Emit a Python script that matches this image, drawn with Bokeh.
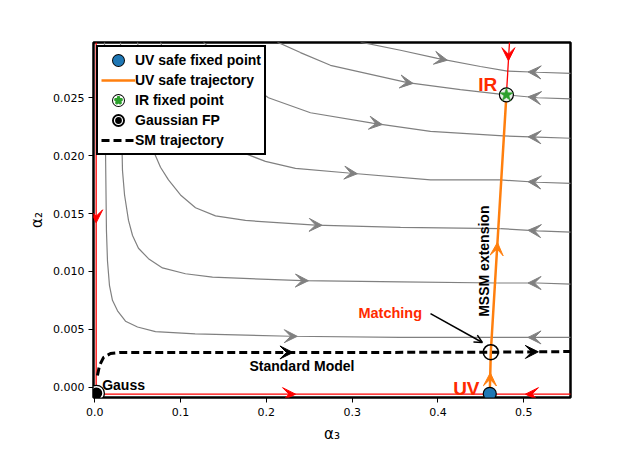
import numpy as np
from bokeh.plotting import figure
from bokeh.models import (ColumnDataSource, Arrow, VeeHead, OpenHead, Label, Legend,
                          LegendItem, FixedTicker, NumeralTickFormatter, Range1d)
from bokeh.embed import file_html
from bokeh.resources import INLINE

# ---------------- data (alpha3, alpha2) ----------------
# gray RG flow lines arriving from the left / top
flow_A_a3 = [0.0113, 0.0125, 0.0136, 0.0148, 0.0171, 0.0206, 0.0265, 0.0358, 0.0498, 0.0707, 0.117, 0.228, 0.356, 0.461]
flow_A_a2 = [0.0298, 0.0204, 0.0135, 0.0109, 0.0088, 0.0075, 0.0066, 0.0057, 0.0052, 0.0048, 0.0046, 0.0044, 0.0043, 0.0043]
flow_B_a3 = [0.0300, 0.0311, 0.0323, 0.0347, 0.0393, 0.0440, 0.0509, 0.0626, 0.0789, 0.1057, 0.1372, 0.2421, 0.3563, 0.4694]
flow_B_a2 = [0.0298, 0.0230, 0.0187, 0.0166, 0.0144, 0.0131, 0.0120, 0.0111, 0.0103, 0.0098, 0.0095, 0.0092, 0.0091, 0.0090]
flow_C_a3 = [0.0498, 0.0556, 0.0614, 0.0684, 0.0766, 0.0859, 0.0999, 0.1174, 0.1407, 0.1756, 0.2572, 0.3563, 0.4729]
flow_C_a2 = [0.0298, 0.0265, 0.0230, 0.0204, 0.0190, 0.0179, 0.0166, 0.0155, 0.0148, 0.0144, 0.0140, 0.0138, 0.0137]
flow_D_a3 = [0.0766, 0.0906, 0.1092, 0.1349, 0.1675, 0.1989, 0.2339, 0.2957, 0.3913, 0.4729]
flow_D_a2 = [0.0298, 0.0269, 0.0243, 0.0222, 0.0204, 0.0195, 0.0189, 0.0185, 0.0179, 0.0179]
flow_E_a3 = [0.1267, 0.1523, 0.1815, 0.2024, 0.2514, 0.3237, 0.3913, 0.4763]
flow_E_a2 = [0.0298, 0.0278, 0.0261, 0.0250, 0.0237, 0.0228, 0.0221, 0.0217]
flow_F_a3 = [0.2129, 0.2397, 0.2747, 0.3645, 0.4262, 0.4798]
flow_F_a2 = [0.0298, 0.0289, 0.0278, 0.0263, 0.0257, 0.02525]
flow_G_a3 = [0.3097, 0.3563, 0.3994, 0.4495, 0.4810]
flow_G_a2 = [0.0298, 0.0291, 0.0284, 0.0277, 0.0273]
left_arrow_tip_a3 = [0.236, 0.249, 0.265, 0.306, 0.335, 0.371, 0.411]

# gray flow lines arriving from the right edge
right_a3_edge = 0.555
right_a3_mid = 0.516
right_end_a3 = [0.461, 0.4694, 0.4729, 0.4729, 0.4763, 0.4798, 0.4810]
right_edge_a2 = [0.0043, 0.0089, 0.0134, 0.0176, 0.0215, 0.0249, 0.0271]
right_mid_a2 = [0.0043, 0.0090, 0.0135, 0.0177, 0.0216, 0.0250, 0.0272]
right_end_a2 = [0.0043, 0.0090, 0.0137, 0.0179, 0.0217, 0.02525, 0.0273]
right_arrow_tip_a3 = 0.505

# fixed points
uv_fp = (0.4604, -0.00057)
ir_fp = (0.4798, 0.02525)
gauss_fp = (0.0020, -0.00052)
matching_pt = (0.4616, 0.00302)

# UV safe trajectory (orange)
uv_traj_a3 = [0.4604, 0.4616, 0.4798]
uv_traj_a2 = [-0.00057, 0.00302, 0.02525]
uv_arrow_tip_a2 = [0.00124, 0.0125]

# red separatrices
red_bottom_a3 = [0.0020, 0.555]
red_bottom_a2 = [-0.0006, -0.0006]
red_bottom_tips = [(0.234, +1), (0.502, -1)]
red_left_a3 = [0.0016, 0.0016]
red_left_a2 = [0.0298, -0.0006]
red_left_tip_a2 = 0.0142
red_top_a3 = [0.4798, 0.4834]
red_top_a2 = [0.02525, 0.0298]
red_top_tip_a2 = 0.0282

# Standard Model trajectory (dashed)
sm_a3 = [0.0031, 0.0055, 0.0101, 0.0183, 0.030, 0.1232, 0.298, 0.4612, 0.555]
sm_a2 = [0.00101, 0.00187, 0.00256, 0.00291, 0.0030, 0.0030, 0.0030, 0.00302, 0.00308]
sm_arrow_tip_a3 = [0.231, 0.517]

x_ticks = [0.0, 0.1, 0.2, 0.3, 0.4, 0.5]
y_ticks = [0.000, 0.005, 0.010, 0.015, 0.020, 0.025]

legend_labels = ["UV safe fixed point", "UV safe trajectory", "IR fixed point", "Gaussian FP", "SM trajectory"]

# ---------------- figure ----------------
p = figure(output_backend="svg", toolbar_location=None,
           frame_width=477, frame_height=355,
           min_border_left=93, min_border_right=45, min_border_top=42, min_border_bottom=62,
           x_range=Range1d(-0.0015, 0.5545), y_range=Range1d(-0.00089, 0.02977),
           background_fill_color="white", border_fill_color="white")
p.grid.visible = False
p.outline_line_color = "black"
p.outline_line_width = 2.5

GRAY = "#808080"
RED = "#ff0000"
ORANGE = "#ff7f0e"
TXT_RED = "#ff2a00"
BLUE = "#1f77b4"
GREEN = "#2ca02c"


def add_arrows(xs, ys, xe, ye, color, size=13):
    src = ColumnDataSource(dict(xs=xs, ys=ys, xe=xe, ye=ye))
    p.add_layout(Arrow(end=VeeHead(size=size, fill_color=color, line_color=color, line_width=1),
                       x_start="xs", y_start="ys", x_end="xe", y_end="ye",
                       source=src, line_color=None))


left_curves = [(flow_A_a3, flow_A_a2), (flow_B_a3, flow_B_a2), (flow_C_a3, flow_C_a2),
               (flow_D_a3, flow_D_a2), (flow_E_a3, flow_E_a2), (flow_F_a3, flow_F_a2),
               (flow_G_a3, flow_G_a2)]
p.multi_line(xs=[c[0] for c in left_curves], ys=[c[1] for c in left_curves],
             line_color=GRAY, line_width=1.2)
xs, ys, xe, ye = [], [], [], []
for (cx, cy), tip in zip(left_curves, left_arrow_tip_a3):
    xs.append(tip - 0.008); ys.append(float(np.interp(tip - 0.008, cx, cy)))
    xe.append(tip); ye.append(float(np.interp(tip, cx, cy)))
add_arrows(xs, ys, xe, ye, GRAY)

rx = [[right_a3_edge, right_a3_mid, e] for e in right_end_a3]
ry = [[a, b, c] for a, b, c in zip(right_edge_a2, right_mid_a2, right_end_a2)]
p.multi_line(xs=rx, ys=ry, line_color=GRAY, line_width=1.2)
xs, ys, xe, ye = [], [], [], []
for cx, cy in zip(rx, ry):
    xr, yr = cx[::-1], cy[::-1]
    xs.append(right_arrow_tip_a3 + 0.008); ys.append(float(np.interp(right_arrow_tip_a3 + 0.008, xr, yr)))
    xe.append(right_arrow_tip_a3); ye.append(float(np.interp(right_arrow_tip_a3, xr, yr)))
add_arrows(xs, ys, xe, ye, GRAY)

# red separatrices
p.line(red_bottom_a3, red_bottom_a2, line_color=RED, line_width=1.3)
p.line(red_left_a3, red_left_a2, line_color=RED, line_width=1.3)
p.line(red_top_a3, red_top_a2, line_color=RED, line_width=1.3)
xs = [t - 0.008 * d for t, d in red_bottom_tips]
xe = [t for t, d in red_bottom_tips]
add_arrows(xs, [red_bottom_a2[0]] * 2, xe, [red_bottom_a2[0]] * 2, RED)
add_arrows([red_left_a3[0]], [red_left_tip_a2 + 0.0007], [red_left_a3[0]], [red_left_tip_a2], RED)
top_x = float(np.interp(red_top_tip_a2, red_top_a2, red_top_a3))
add_arrows([top_x], [red_top_tip_a2 + 0.0007], [top_x], [red_top_tip_a2], RED)

# Standard Model trajectory
sm_r = p.line(sm_a3, sm_a2, line_color="black", line_width=3, line_dash="8 4")
add_arrows([t - 0.008 for t in sm_arrow_tip_a3], [float(np.interp(t - 0.008, sm_a3, sm_a2)) for t in sm_arrow_tip_a3],
           sm_arrow_tip_a3, [float(np.interp(t, sm_a3, sm_a2)) for t in sm_arrow_tip_a3], "black")

# UV-safe trajectory
uv_r = p.line(uv_traj_a3, uv_traj_a2, line_color=ORANGE, line_width=2.5)
add_arrows([float(np.interp(t - 0.0008, uv_traj_a2, uv_traj_a3)) for t in uv_arrow_tip_a2],
           [t - 0.0008 for t in uv_arrow_tip_a2],
           [float(np.interp(t, uv_traj_a2, uv_traj_a3)) for t in uv_arrow_tip_a2],
           uv_arrow_tip_a2, ORANGE)

# matching point
p.scatter([matching_pt[0]], [matching_pt[1]], size=15, marker="circle", fill_color=None,
          line_color="black", line_width=1.6)

# fixed points
p.scatter([uv_fp[0]], [uv_fp[1]], size=13, marker="circle", fill_color=BLUE,
          line_color="black", line_width=1.2)
p.scatter([ir_fp[0]], [ir_fp[1]], size=14, marker="circle", fill_color="#e8f0e8",
          line_color="black", line_width=1.2)
p.scatter([ir_fp[0]], [ir_fp[1]], size=14, marker="star", fill_color=GREEN,
          line_color=GREEN, line_width=0.5)
p.scatter([gauss_fp[0]], [gauss_fp[1]], size=13, marker="circle", fill_color=None,
          line_color="black", line_width=4)
p.scatter([gauss_fp[0]], [gauss_fp[1]], size=13, marker="circle", fill_color="black",
          line_color="white", line_width=1.5)

# legend-only marker renderers (placed outside the visible range)
off = dict(x=[-1.0], y=[-1.0])
lg_uv = [p.scatter(marker="circle", size=8, fill_color=None, line_color="black", line_width=5, **off),
         p.scatter(marker="circle", size=8, fill_color=BLUE, line_color=BLUE, line_width=3, **off)]
lg_ir = [p.scatter(marker="circle", size=8, fill_color=None, line_color="black", line_width=5, **off),
         p.scatter(marker="circle", size=8, fill_color="white", line_color="white", line_width=3, **off),
         p.scatter(marker="star", size=8, fill_color=GREEN, line_color=GREEN, line_width=2.5, **off)]
lg_ga = [p.scatter(marker="circle", size=8, fill_color=None, line_color="black", line_width=5, **off),
         p.scatter(marker="circle", size=8, fill_color="black", line_color="white", line_width=1.2, **off)]

# annotation arrow to matching point
p.add_layout(Arrow(end=OpenHead(size=8, line_color="black", line_width=1.5),
                   x_start=0.3913, y_start=0.00636, x_end=0.4518, y_end=0.00386,
                   line_color="black", line_width=1.5))

# texts
FONT = "Liberation Sans"
p.add_layout(Label(x=0.1803, y=0.00179, text="Standard Model", text_font=FONT, text_font_size="14px",
                   text_font_style="bold", text_color="black", text_baseline="alphabetic"))
p.add_layout(Label(x=0.0086, y=0.00015, text="Gauss", text_font=FONT, text_font_size="14px",
                   text_font_style="bold", text_color="black", text_baseline="alphabetic"))
p.add_layout(Label(x=0.3073, y=0.00642, text="Matching", text_font=FONT, text_font_size="14.5px",
                   text_font_style="bold", text_color=TXT_RED, text_baseline="alphabetic"))
p.add_layout(Label(x=0.4470, y=0.02615, text="IR", text_font=FONT, text_font_size="19px",
                   text_font_style="bold", text_color=TXT_RED, text_baseline="alphabetic"))
p.add_layout(Label(x=0.4177, y=-0.00011, text="UV", text_font=FONT, text_font_size="19px",
                   text_font_style="bold", text_color=TXT_RED, text_baseline="alphabetic"))
p.add_layout(Label(x=0.4542, y=0.00608, text="MSSM extension", text_font=FONT, text_font_size="14px",
                   text_font_style="bold", text_color="black", angle=np.pi / 2,
                   text_align="left", text_baseline="middle"))

# axes
for ax in (p.xaxis[0], p.yaxis[0]):
    ax.axis_line_color = None
    ax.major_tick_line_color = "black"
    ax.major_tick_line_width = 1
    ax.major_tick_in = 0
    ax.major_tick_out = 5
    ax.minor_tick_line_color = None
    ax.major_label_text_font = "DejaVu Sans"
    ax.major_label_text_font_size = "11px"
    ax.major_label_text_color = "black"
    ax.axis_label_text_font = "DejaVu Sans"
    ax.axis_label_text_font_size = "15px"
    ax.axis_label_text_font_style = "normal"
    ax.axis_label_text_color = "black"
p.xaxis.ticker = FixedTicker(ticks=x_ticks)
p.yaxis.ticker = FixedTicker(ticks=y_ticks)
p.xaxis.formatter = NumeralTickFormatter(format="0.0")
p.yaxis.formatter = NumeralTickFormatter(format="0.000")
p.xaxis.axis_label = "α₃"
p.yaxis.axis_label = "α₂"
p.xaxis.major_label_standoff = 5
p.yaxis.major_label_standoff = 4
p.xaxis.axis_label_standoff = 6
p.yaxis.axis_label_standoff = 4

# legend
legend = Legend(items=[
    LegendItem(label=legend_labels[0], renderers=lg_uv),
    LegendItem(label=legend_labels[1], renderers=[uv_r]),
    LegendItem(label=legend_labels[2], renderers=lg_ir),
    LegendItem(label=legend_labels[3], renderers=lg_ga),
    LegendItem(label=legend_labels[4], renderers=[sm_r]),
], location="top_left", margin=3, padding=3, spacing=0,
    glyph_width=34, glyph_height=20, label_height=20, label_standoff=0,
    label_text_font=FONT, label_text_font_size="14px", label_text_font_style="bold",
    label_text_color="black",
    border_line_color="black", border_line_width=2.5, border_line_alpha=1.0,
    background_fill_color="white", background_fill_alpha=1.0)
p.add_layout(legend, "center")

open("out.html", "w").write(file_html(p, INLINE))
